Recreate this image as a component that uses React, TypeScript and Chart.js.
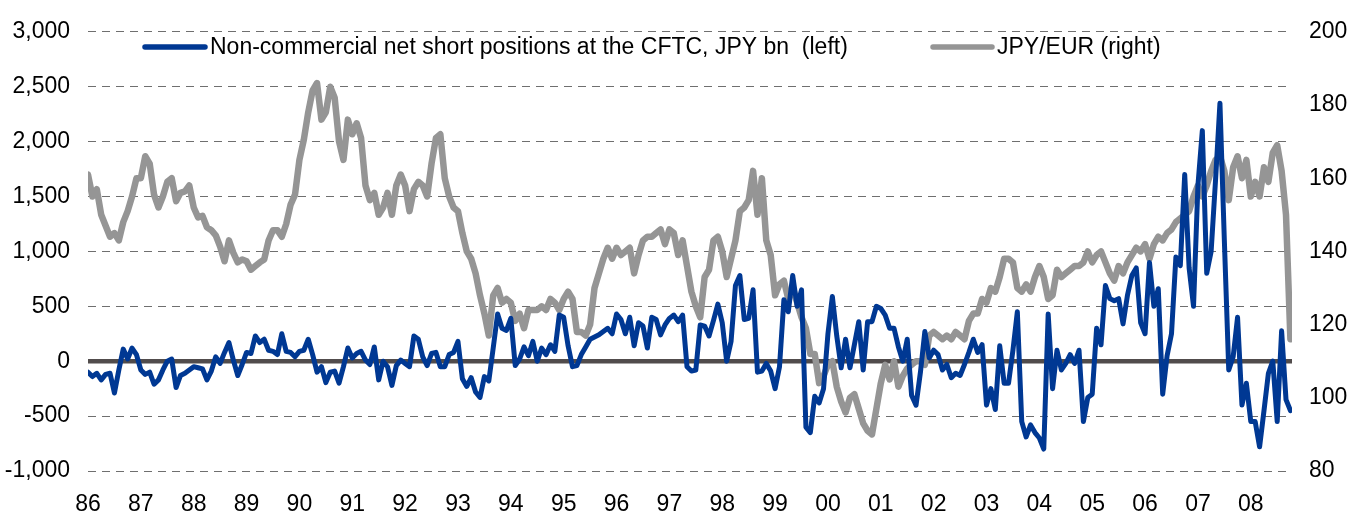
import { useEffect, useRef } from "react";
import { Chart, registerables } from "chart.js";

Chart.register(...registerables);

// ---- data (monthly, Jan 1986 .. Oct 2008) ----
const startYear = 1986;
const endYear = 2008.78;
const yearTicks = [1986, 1987, 1988, 1989, 1990, 1991, 1992, 1993, 1994, 1995, 1996, 1997, 1998, 1999, 2000, 2001, 2002, 2003, 2004, 2005, 2006, 2007, 2008];

const netShortLabel = "Non-commercial net short positions at the CFTC, JPY bn  (left)";
const jpyEurLabel = "JPY/EUR (right)";

// Non-commercial net short positions, JPY bn (left axis)
const netShort = [
  -100, -140, -110, -170, -120, -110, -290, -80, 110, 20, 120, 60,
  -80, -120, -100, -210, -170, -80, 0, 20, -240, -130, -110, -80,
  -50, -60, -70, -170, -90, 40, -20, 80, 170, 10, -130, -30,
  80, 70, 230, 170, 200, 100, 90, 60, 250, 90, 80, 40,
  90, 100, 200, 60, -100, -50, -195, -100, -90, -200, -50, 120,
  30, 70, 90, 10, -30, 130, -170, 0, -50, -220, -40, 10,
  -20, -50, 230, 200, 40, -40, 70, 80, -50, -50, 60, 80,
  180, -160, -230, -150, -280, -330, -140, -180, 120, 430, 300, 280,
  390, -40, 20, 130, 50, 180, 0, 120, 60, 150, 90, 420,
  400, 140, -50, -40, 60, 130, 200, 220, 240, 270, 300, 250,
  430, 380, 250, 400, 140, 350, 320, 120, 400, 380, 240, 330,
  390, 420, 360, 420, -50, -90, -80, 330, 320, 230, 370, 520,
  350, 0, 180, 690, 780, 380, 390, 650, -100, -90, -20, -90,
  -250, -50, 560, 450, 780, 500, 650, -600, -650, -320, -380, -250,
  250, 590, 230, -60, 200, -60, 150, 360, -80, 360, 360, 500,
  480, 420, 300, 300, 130, 0, 200, -313, -400, -100, 270, 30,
  100, 60, -80, -30, -150, -110, -130, -30, 80, 200, 80, 150,
  -400, -250, -440, 140, -200, -200, 100, 450, -550, -690, -580, -650,
  -700, -800, 430, -250, 100, -80, -20, 60, -20, 100, -550, -330,
  -300, 300, 150, 690, 570, 550, 570, 340, 600, 780, 850, 350,
  250, 900, 500, 660, -300, 50, 250, 950, 870, 1700, 850, 500,
  1600, 2100, 800, 1000, 1650, 2350, 1100, -80, 40, 400, -400, -200,
  -550, -550, -780, -450, -110, 0, -550, 277, -350, -450,
];

// JPY per EUR (right axis)
const jpyEur = [
  161, 155, 157, 150, 147, 144, 145, 143, 148, 151, 155, 160,
  160, 166, 164, 155.5, 152, 155, 159, 160, 153.7, 156, 156.4, 158,
  152, 149.3, 149.7, 146.6, 145.8, 144.4, 141.3, 137.3, 143, 139.6, 137, 137.8,
  137.3, 135, 136, 137, 137.8, 143, 145.8, 145.8, 144, 147.5, 152.8, 155.5,
  165, 170.5, 178, 184, 186, 176, 178, 185, 182, 170, 165, 176,
  172, 175, 171, 158, 154, 156, 150, 152, 156, 150, 158, 161,
  158, 151, 157, 159, 158, 155, 164, 171, 172, 160, 155, 152,
  151, 145, 140, 138, 134, 128, 123, 117, 128, 130, 126, 127,
  126, 121, 123, 119, 124, 124, 124, 125, 124, 127, 126, 124,
  127, 129, 127, 118, 118, 117, 120, 130, 134, 138, 141, 138,
  141, 139, 140, 141, 134, 139, 143, 144, 144, 145, 146, 142,
  146, 145, 139, 143, 136, 129, 125, 122, 133, 135, 143, 144,
  140, 133, 138, 143, 151, 152, 154, 162, 150, 160, 143, 139,
  128, 131, 132, 127, 130, 126, 122, 119, 112, 112, 104, 106,
  109, 110, 103, 99, 96, 100, 101, 97, 93, 91, 90, 97,
  104, 109, 105, 110, 103, 106, 108, 109, 110, 110, 109, 117,
  118, 117, 116, 117, 116, 118, 117, 116, 121, 123, 123, 127,
  126, 130, 129, 133, 138, 138, 137, 130, 129, 131, 129, 133,
  136, 133, 127, 128, 135, 133, 134, 135, 136, 136, 137, 140,
  137, 139, 140, 137, 134, 132, 136, 134, 137, 139, 141, 140,
  142, 138, 142, 144, 143, 145, 146, 148, 149, 150, 151, 155,
  158, 155, 158, 162, 165, 166, 162, 154, 163, 166, 160, 165,
  155, 159, 155, 163, 159, 167, 169, 162, 150, 116,
];

const FONT = '"Liberation Sans", Arial, Helvetica, sans-serif';
const BLUE = "#003893";
const GRAY = "#959595";

const toPoints = (vals: number[]) => vals.map((v, i) => ({ x: startYear + i / 12, y: v }));

const legendPlugin = {
  id: "inlineLegend",
  afterDatasetsDraw(chart: any) {
    const ctx = chart.ctx;
    const items = [
      { ds: 0, x1: 145, x2: 205, tx: 210 },
      { ds: 1, x1: 933, x2: 992, tx: 997 },
    ];
    const y = 47;
    ctx.save();
    ctx.font = `23px ${FONT}`;
    ctx.textBaseline = "middle";
    ctx.textAlign = "left";
    for (const it of items) {
      const ds = chart.data.datasets[it.ds];
      ctx.strokeStyle = ds.borderColor;
      ctx.lineWidth = 5.5;
      ctx.lineCap = "round";
      ctx.beginPath();
      ctx.moveTo(it.x1, y);
      ctx.lineTo(it.x2, y);
      ctx.stroke();
      ctx.fillStyle = "#000";
      ctx.fillText(ds.label, it.tx, y + 1);
    }
    ctx.restore();
  },
};

export default function App() {
  const ref = useRef<HTMLCanvasElement | null>(null);

  useEffect(() => {
    document.body.style.margin = "0";
    const canvas = ref.current;
    if (!canvas) return;
    const tickFont = { family: FONT, size: 23 };
    const chart = new Chart(canvas, {
      type: "line",
      data: {
        datasets: [
          {
            label: netShortLabel,
            data: toPoints(netShort),
            yAxisID: "yL",
            borderColor: BLUE,
            borderWidth: 5,
            pointRadius: 0,
            tension: 0,
            borderJoinStyle: "round",
            borderCapStyle: "round",
          },
          {
            label: jpyEurLabel,
            data: toPoints(jpyEur),
            yAxisID: "yR",
            borderColor: GRAY,
            borderWidth: 6.5,
            pointRadius: 0,
            tension: 0,
            borderJoinStyle: "round",
            borderCapStyle: "round",
          },
        ],
      },
      options: {
        responsive: false,
        animation: false,
        devicePixelRatio: 1,
        layout: { padding: { top: 19, left: 0, right: 0, bottom: 0 } },
        plugins: { legend: { display: false }, tooltip: { enabled: false } },
        events: [],
        scales: {
          x: {
            type: "linear",
            min: startYear,
            max: endYear,
            afterBuildTicks: (scale: any) => {
              scale.ticks = yearTicks.map((v) => ({ value: v }));
            },
            afterFit: (scale: any) => {
              scale.height = 48;
            },
            grid: { display: false, drawTicks: false },
            border: { display: false },
            ticks: {
              autoSkip: false,
              maxRotation: 0,
              padding: 20,
              color: "#000",
              font: tickFont,
              callback: (v: any) => String(Math.round(Number(v)) % 100).padStart(2, "0"),
            },
          },
          yL: {
            type: "linear",
            position: "left",
            min: -1000,
            max: 3000,
            afterFit: (scale: any) => {
              scale.width = 88;
            },
            grid: {
              drawTicks: false,
              color: (c: any) => (c.tick && c.tick.value === 0 ? "#514c4c" : "#6f6f6f"),
              lineWidth: (c: any) => (c.tick && c.tick.value === 0 ? 4.5 : 1),
            },
            border: {
              display: false,
              dash: (c: any) => (c.tick && c.tick.value === 0 ? [] : [8, 6]),
            },
            ticks: {
              stepSize: 500,
              padding: 18,
              color: "#000",
              font: tickFont,
              callback: (v: any) => Number(v).toLocaleString("en-US"),
            },
          },
          yR: {
            type: "linear",
            position: "right",
            min: 80,
            max: 200,
            afterFit: (scale: any) => {
              scale.width = 75;
            },
            grid: { drawOnChartArea: false, drawTicks: false },
            border: { display: false },
            ticks: {
              stepSize: 20,
              padding: 17,
              color: "#000",
              font: tickFont,
            },
          },
        },
      },
      plugins: [legendPlugin],
    } as any);
    return () => chart.destroy();
  }, []);

  return (
    <div style={{ width: 1367, height: 519 }}>
      <canvas ref={ref} width={1367} height={519} style={{ display: "block", width: 1367, height: 519 }} />
    </div>
  );
}
